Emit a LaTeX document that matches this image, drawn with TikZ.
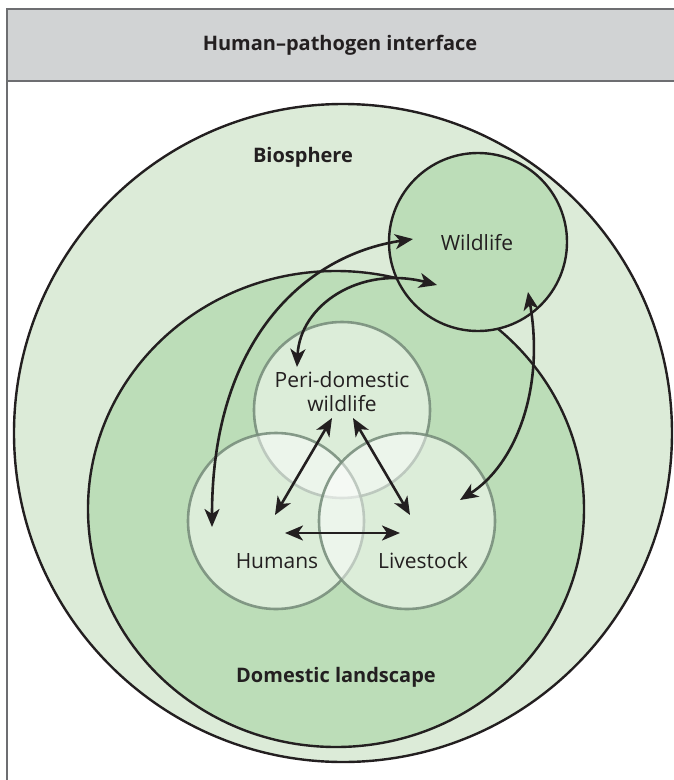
\documentclass[tikz,border=0pt]{standalone}
\usepackage{fontspec}
\setmainfont{Open Sans}
\usepackage{tikz}
\usetikzlibrary{arrows.meta, shapes.geometric}
\definecolor{BioGreen}{HTML}{DCEBD8}
\definecolor{DomGreen}{HTML}{BCDDB8}
\definecolor{RingGray}{HTML}{748A78}
\definecolor{HeadGray}{HTML}{D1D3D4}
\definecolor{FrameGray}{HTML}{6D6E71}
\definecolor{InkBlack}{HTML}{231F20}

\tikzset{
  zone/.style={circle, draw=InkBlack, line width=2.4pt, inner sep=0pt},
  subzone/.style={circle, draw=RingGray, draw opacity=0.85, fill=white, fill opacity=0.48, line width=2.6pt, inner sep=0pt, minimum size=176pt},
  flow/.style={{Stealth[length=18pt, width=15pt, inset=5pt]}-{Stealth[length=18pt, width=15pt, inset=5pt]}, InkBlack, line width=2.6pt},
  lbl/.style={text=InkBlack, font=\fontsize{21}{24}\selectfont},
  blbl/.style={text=InkBlack, font=\bfseries\fontsize{20}{23}\selectfont}
}

\begin{document}
\begin{tikzpicture}[x=1pt, y=-1pt]
  \useasboundingbox (0,0) rectangle (673,780);
  \fill[HeadGray] (7,9) rectangle (690,81);
  \draw[FrameGray, line width=1.4pt] (7,800) -- (7,9) -- (690,9);
  \draw[FrameGray, line width=1.4pt] (7,81) -- (690,81);
  \node[blbl] (title) at (340,45) {Human--pathogen interface};

  \node[zone, fill=BioGreen, minimum size=658pt] (bio) at (343,433) {};
  \node[zone, ellipse, fill=DomGreen, minimum width=496pt, minimum height=476pt] (dom) at (336,509) {};
  \node[zone, fill=DomGreen, minimum size=178pt] (wild) at (478,242) {};
  \node[subzone] (peri) at (342,410) {};
  \node[subzone] (hum) at (276,521) {};
  \node[subzone] (live) at (407,521) {};

  \node[blbl] (bio-lbl) at (303,157) {Biosphere};
  \node[blbl] (dom-lbl) at (336,677) {Domestic landscape};
  \node[lbl] (wild-lbl) at (477,243) {Wildlife};
  \node[lbl, align=center] (peri-lbl) at (342,392) {Peri-domestic\\wildlife};
  \node[lbl] (hum-lbl) at (277,561) {Humans};
  \node[lbl] (live-lbl) at (423,561) {Livestock};

  \coordinate (humA) at (212,527);
  \coordinate (wildA) at (413,239);
  \coordinate (periA) at (297,367);
  \coordinate (wildB) at (437,285);
  \coordinate (wildC) at (528,292);
  \coordinate (liveA) at (460,500);
  \coordinate (periB) at (332,418);
  \coordinate (periC) at (353,418);
  \coordinate (humB) at (275,515);
  \coordinate (liveB) at (410,515);
  \coordinate (humC) at (285,533);
  \coordinate (liveC) at (400,533);

  \draw[flow] (humA) .. controls (212,340) and (305,255) .. (wildA);
  \draw[flow] (periA) .. controls (300,305) and (360,265) .. (wildB);
  \draw[flow] (wildC) .. controls (545,390) and (515,465) .. (liveA);
  \draw[flow] (periB) -- (humB);
  \draw[flow] (periC) -- (liveB);
  \draw[flow] (humC) -- (liveC);
\end{tikzpicture}
\end{document}
